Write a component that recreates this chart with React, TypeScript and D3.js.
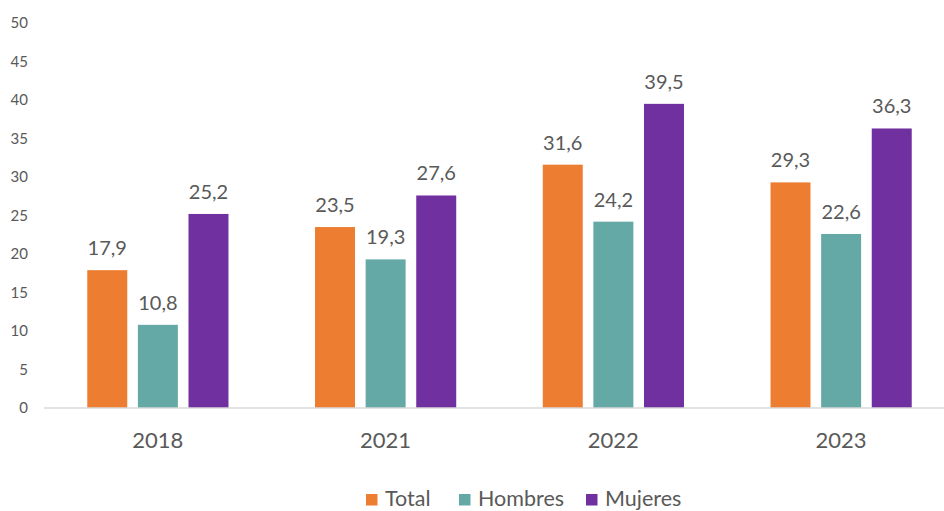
import React from "react";
import { scaleBand, scaleLinear } from "d3";

const years = ["2018", "2021", "2022", "2023"];
const seriesKeys = ["Total", "Hombres", "Mujeres"];
const total = [17.9, 23.5, 31.6, 29.3];
const hombres = [10.8, 19.3, 24.2, 22.6];
const mujeres = [25.2, 27.6, 39.5, 36.3];
const yTicks = [0, 5, 10, 15, 20, 25, 30, 35, 40, 45, 50];

const colors: Record<string, string> = {
  Total: "#ED7D31",
  Hombres: "#64A9A6",
  Mujeres: "#7030A0",
};

const W = 944;
const H = 511;
const FONT = "Lato, 'Open Sans', sans-serif";
const TEXT = "#595959";

const fmt = (v: number) => v.toFixed(1).replace(".", ",");

const App = () => {
  const rows = years.map((y, i) => ({
    year: y,
    Total: total[i],
    Hombres: hombres[i],
    Mujeres: mujeres[i],
  }));

  // scales
  const x0 = scaleBand<string>()
    .domain(years)
    .range([44, 955])
    .paddingInner(0.38)
    .paddingOuter(0.19);
  const x1 = scaleBand<string>()
    .domain(seriesKeys)
    .range([0, x0.bandwidth()])
    .paddingInner(0.21);
  const y = scaleLinear().domain([0, 50]).range([408, 23]);

  // legend layout
  const legendItems = [
    { key: "Total", x: 366 },
    { key: "Hombres", x: 459 },
    { key: "Mujeres", x: 586 },
  ];

  return (
    <svg
      width={W}
      height={H}
      style={{ position: "absolute", left: 0, top: 0, background: "#fff" }}
      fontFamily={FONT}
    >
      {/* y tick labels */}
      {yTicks.map((t) => (
        <text
          key={t}
          x={28}
          y={y(t)}
          dy="0.35em"
          textAnchor="end"
          fontSize={15}
          fill={TEXT}
        >
          {t}
        </text>
      ))}

      {/* bars */}
      {rows.map((r) => (
        <g key={r.year} transform={`translate(${x0(r.year)},0)`}>
          {seriesKeys.map((k) => {
            const v = (r as any)[k] as number;
            return (
              <g key={k}>
                <rect
                  x={x1(k)}
                  y={y(v)}
                  width={x1.bandwidth()}
                  height={y(0) - y(v)}
                  fill={colors[k]}
                />
                <text
                  x={(x1(k) as number) + x1.bandwidth() / 2}
                  y={y(v) - 15}
                  textAnchor="middle"
                  fontSize={20}
                  fill={TEXT}
                >
                  {fmt(v)}
                </text>
              </g>
            );
          })}
        </g>
      ))}

      {/* x axis */}
      <line x1={44} x2={955} y1={y(0)} y2={y(0)} stroke="#D9D9D9" strokeWidth={1.5} />
      {years.map((yr) => (
        <text
          key={yr}
          x={(x0(yr) as number) + x0.bandwidth() / 2}
          y={448}
          textAnchor="middle"
          fontSize={22}
          fill={TEXT}
        >
          {yr}
        </text>
      ))}

      {/* legend */}
      {legendItems.map((it) => (
        <g key={it.key}>
          <rect x={it.x} y={494} width={11.5} height={11.5} fill={colors[it.key]} />
          <text x={it.x + 19} y={505.5} fontSize={21.5} fill={TEXT}>
            {it.key}
          </text>
        </g>
      ))}
    </svg>
  );
};

export default App;
